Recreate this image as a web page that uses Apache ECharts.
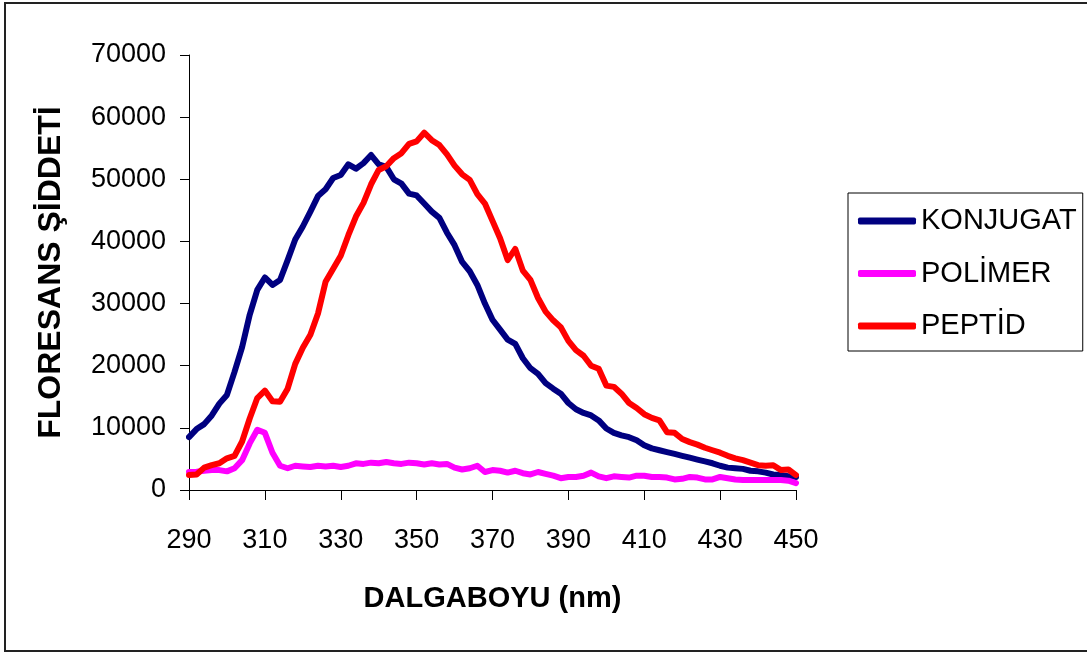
<!DOCTYPE html>
<html>
<head>
<meta charset="utf-8">
<script src="https://cdn.jsdelivr.net/npm/echarts@6/dist/echarts.min.js"></script>
<style>
  html, body { margin: 0; padding: 0; background: #fff; }
  #chart { width: 1087px; height: 653px; }
</style>
</head>
<body>
<div id="chart"></div>
<script>
// Emission spectra, 290–450 nm in 2 nm steps
const wavelengths = [];
for (let w = 290; w <= 450; w += 2) wavelengths.push(w);

const konjugat = [
  8500, 9800, 10600, 12000, 13900, 15300, 19000, 23000, 28200, 32200,
  34200, 33000, 33800, 37000, 40300, 42400, 44800, 47300, 48400, 50200,
  50700, 52400, 51700, 52600, 53900, 52400, 52000, 50000, 49300, 47700,
  47400, 46100, 44800, 43800, 41400, 39400, 36700, 35200, 33000, 30000,
  27400, 25800, 24200, 23500, 21200, 19600, 18700, 17200, 16300, 15500,
  14000, 13000, 12400, 12000, 11200, 9900, 9200, 8800, 8500, 8000,
  7200, 6700, 6400, 6100, 5800, 5500, 5200, 4900, 4600, 4300,
  3900, 3600, 3500, 3400, 3100, 3000, 2800, 2500, 2400, 2200,
  2100
];

const polimer = [
  2900, 2950, 3100, 3200, 3200, 3000, 3500, 4800, 7500, 9700,
  9200, 6000, 3900, 3500, 3900, 3800, 3700, 3900, 3800, 3900,
  3700, 3900, 4300, 4200, 4400, 4300, 4500, 4300, 4200, 4400,
  4300, 4100, 4300, 4100, 4200, 3600, 3300, 3500, 3900, 2900,
  3200, 3100, 2800, 3100, 2700, 2500, 2900, 2600, 2300, 1900,
  2100, 2100, 2300, 2800, 2200, 1900, 2200, 2100, 2000, 2300,
  2300, 2100, 2100, 2000, 1700, 1800, 2100, 2000, 1700, 1700,
  2100, 1900, 1700, 1600, 1600, 1600, 1600, 1600, 1600, 1500,
  1100
];

const peptid = [
  2400, 2500, 3600, 4000, 4300, 5100, 5500, 7800, 11500, 14800,
  16000, 14300, 14200, 16300, 20300, 22900, 25000, 28400, 33500, 35600,
  37700, 41000, 44000, 46200, 49200, 51500, 52100, 53400, 54200, 55700,
  56100, 57500, 56300, 55500, 54000, 52200, 50800, 49900, 47600, 46100,
  43300, 40500, 37000, 38800, 35300, 33800, 30900, 28700, 27300, 26200,
  24000, 22500, 21600, 20000, 19500, 16800, 16600, 15500, 14000, 13200,
  12200, 11600, 11200, 9300, 9200, 8200, 7700, 7300, 6800, 6400,
  6000, 5500, 5100, 4800, 4400, 4000, 3900, 4000, 3200, 3300,
  2400
];

const seriesNames = ['KONJUGAT', 'POLİMER', 'PEPTİD'];
const seriesColors = ['#000080', '#FF00FF', '#FF0000'];
const seriesValues = [konjugat, polimer, peptid];

const FONT = '"Liberation Sans", Arial, sans-serif';

const chart = echarts.init(document.getElementById('chart'), null, { renderer: 'canvas' });

chart.setOption({
  backgroundColor: '#ffffff',
  animation: false,
  grid: { left: 189, top: 55, width: 607, height: 435, containLabel: false },
  xAxis: {
    type: 'value',
    min: 290, max: 450, interval: 20,
    name: 'DALGABOYU (nm)',
    nameLocation: 'middle',
    nameGap: 94,
    nameTextStyle: { fontFamily: FONT, fontSize: 29, fontWeight: 'bold', color: '#000' },
    axisLine: { show: true, onZero: false, lineStyle: { color: '#000', width: 1 } },
    axisTick: { show: true, length: 10, lineStyle: { color: '#000', width: 1 } },
    axisLabel: { color: '#000', fontFamily: FONT, fontSize: 27, margin: 37, formatter: v => String(v) },
    splitLine: { show: false }
  },
  yAxis: {
    type: 'value',
    min: 0, max: 70000, interval: 10000,
    name: 'FLORESANS ŞİDDETİ',
    nameLocation: 'middle',
    nameGap: 122,
    nameTextStyle: { fontFamily: FONT, fontSize: 32, fontWeight: 'bold', color: '#000' },
    axisLine: { show: true, lineStyle: { color: '#000', width: 1 } },
    axisTick: { show: true, length: 9, lineStyle: { color: '#000', width: 1 } },
    axisLabel: { color: '#000', fontFamily: FONT, fontSize: 27, margin: 23, formatter: v => String(v) },
    splitLine: { show: false }
  },
  legend: {
    orient: 'vertical',
    left: 848, top: 193,
    icon: 'roundRect',
    itemWidth: 58, itemHeight: 7,
    itemGap: 22.5,
    padding: [13, 6, 10, 10],
    borderColor: '#000', borderWidth: 1,
    textStyle: { fontFamily: FONT, fontSize: 29, lineHeight: 30, color: '#000' },
    data: seriesNames
  },
  graphic: [{
    type: 'rect',
    shape: { x: 5, y: 3, width: 1100, height: 648 },
    style: { fill: 'none', stroke: '#222', lineWidth: 2 },
    silent: true, z: 100
  }],
  series: seriesNames.map((name, i) => ({
    name,
    type: 'line',
    showSymbol: false,
    symbol: 'none',
    color: seriesColors[i],
    lineStyle: { color: seriesColors[i], width: 6, cap: 'round', join: 'round' },
    data: wavelengths.map((w, k) => [w, seriesValues[i][k]])
  }))
});
</script>
</body>
</html>
